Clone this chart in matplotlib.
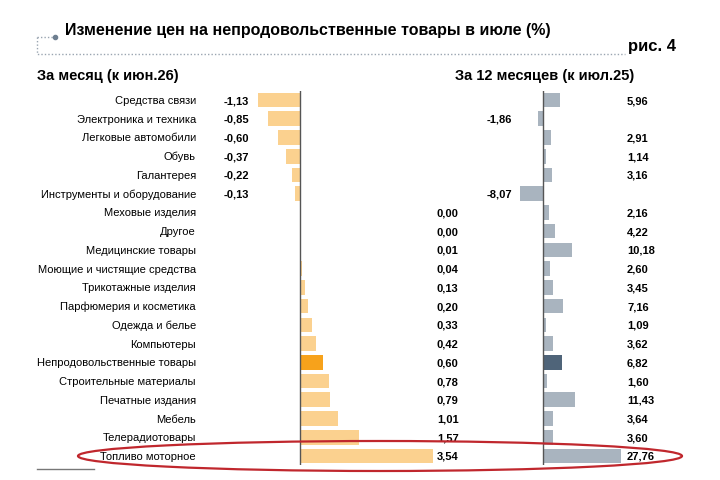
import numpy as np
import matplotlib
matplotlib.use("Agg")
import matplotlib.pyplot as plt
from matplotlib.patches import Ellipse
from matplotlib.lines import Line2D
from matplotlib.transforms import blended_transform_factory

plt.rcParams['font.family'] = ['Liberation Sans Narrow', 'Liberation Sans', 'DejaVu Sans']

# data
categories = ["Средства связи", "Электроника и техника", "Легковые автомобили", "Обувь",
              "Галантерея", "Инструменты и оборудование", "Меховые изделия", "Другое",
              "Медицинские товары", "Моющие и чистящие средства", "Трикотажные изделия",
              "Парфюмерия и косметика", "Одежда и белье", "Компьютеры",
              "Непродовольственные товары", "Строительные материалы", "Печатные издания",
              "Мебель", "Телерадиотовары", "Топливо моторное"]
month_vals = [-1.13, -0.85, -0.60, -0.37, -0.22, -0.13, 0.00, 0.00, 0.01, 0.04,
              0.13, 0.20, 0.33, 0.42, 0.60, 0.78, 0.79, 1.01, 1.57, 3.54]
year_vals = [5.96, -1.86, 2.91, 1.14, 3.16, -8.07, 2.16, 4.22, 10.18, 2.60,
             3.45, 7.16, 1.09, 3.62, 6.82, 1.60, 11.43, 3.64, 3.60, 27.76]
highlight = "Непродовольственные товары"

W, H = 720, 480
fig = plt.figure(figsize=(7.2, 4.8), dpi=100)

def px_rect(x0, y0, x1, y1):
    # pixel box (top-left origin) -> figure fraction rect
    return [x0 / W, 1 - y1 / H, (x1 - x0) / W, (y1 - y0) / H]

n = len(categories)
row_top, row_bot = 100, 456
step = (row_bot - row_top) / (n - 1)
ytop = row_top - step / 2
ybot = row_bot + step / 2
base = 4 / step  # baseline a few px below row centre

def fmt(v):
    return f"{v:.2f}".replace(".", ",")

# left panel
ax1 = fig.add_axes(px_rect(200, ytop, 480, ybot))
scale1 = 37.5
ax1.set_xlim(-100 / scale1, 180 / scale1)
ax1.set_ylim(n - 0.5, -0.5)
y = np.arange(n)
c1 = ["#F7A21B" if c == highlight else "#FBD18F" for c in categories]
ax1.barh(y, month_vals, height=0.78, color=c1)
ax1.axvline(0, color="#555555", lw=1)
tr = blended_transform_factory(fig.transFigure, ax1.transData)
for i, (c, v) in enumerate(zip(categories, month_vals)):
    ax1.text(196 / W, i + base, c, transform=tr, ha="right", va="baseline", fontsize=8)
    if v < 0:
        ax1.text(249 / W, i + base, fmt(v), transform=tr, ha="right", va="baseline",
                 fontsize=8, fontweight="bold")
    else:
        ax1.text(437 / W, i + base, fmt(v), transform=tr, ha="left", va="baseline",
                 fontsize=8, fontweight="bold")
ax1.axis("off")

# right panel
ax2 = fig.add_axes(px_rect(490, ytop, 700, ybot))
scale2 = 2.8
ax2.set_xlim(-53 / scale2, 157 / scale2)
ax2.set_ylim(n - 0.5, -0.5)
c2 = ["#4F6479" if c == highlight else "#A9B4BF" for c in categories]
ax2.barh(y, year_vals, height=0.78, color=c2)
ax2.axvline(0, color="#555555", lw=1)
tr2 = blended_transform_factory(fig.transFigure, ax2.transData)
for i, v in enumerate(year_vals):
    if v < 0:
        ax2.text(512 / W, i + base, fmt(v), transform=tr2, ha="right", va="baseline",
                 fontsize=8, fontweight="bold")
    else:
        ax2.text(627 / W, i + base, fmt(v), transform=tr2, ha="left", va="baseline",
                 fontsize=8, fontweight="bold")
ax2.axis("off")

# titles
fig.text(65 / W, 1 - 30 / H, "Изменение цен на непродовольственные товары в июле (%)",
         fontsize=11.5, fontweight="bold", va="center", ha="left")
fig.text(676 / W, 1 - 47 / H, "рис. 4", fontsize=12, fontweight="bold",
         va="center", ha="right")
fig.text(37 / W, 1 - 76 / H, "За месяц (к июн.26)", fontsize=10.5,
         fontweight="bold", va="center", ha="left")
fig.text(455 / W, 1 - 76 / H, "За 12 месяцев (к июл.25)", fontsize=10.5,
         fontweight="bold", va="center", ha="left")

# dotted frame
dot = dict(transform=fig.transFigure, color="#9AA5B1", lw=1, ls=(0, (1, 1.5)))
fig.add_artist(Line2D([37 / W, 37 / W, 625 / W], [1 - 37 / H, 1 - 54 / H, 1 - 54 / H], **dot))
fig.add_artist(Line2D([37 / W, 53 / W], [1 - 37 / H, 1 - 37 / H], **dot))
fig.add_artist(Line2D([55 / W], [1 - 37 / H], transform=fig.transFigure,
                      marker="o", ms=3, color="#6E7F90"))

# footnote rule
fig.add_artist(Line2D([37 / W, 94 / W], [1 - 469 / H, 1 - 469 / H],
                      transform=fig.transFigure, color="#777777", lw=1))

# red ellipse around motor fuel row
fig.add_artist(Ellipse((380 / W, 1 - 456 / H), 604 / W, 30 / H,
                       transform=fig.transFigure, fill=False,
                       edgecolor="#C0272D", lw=1.6))

fig.savefig("out.png", dpi=100)
